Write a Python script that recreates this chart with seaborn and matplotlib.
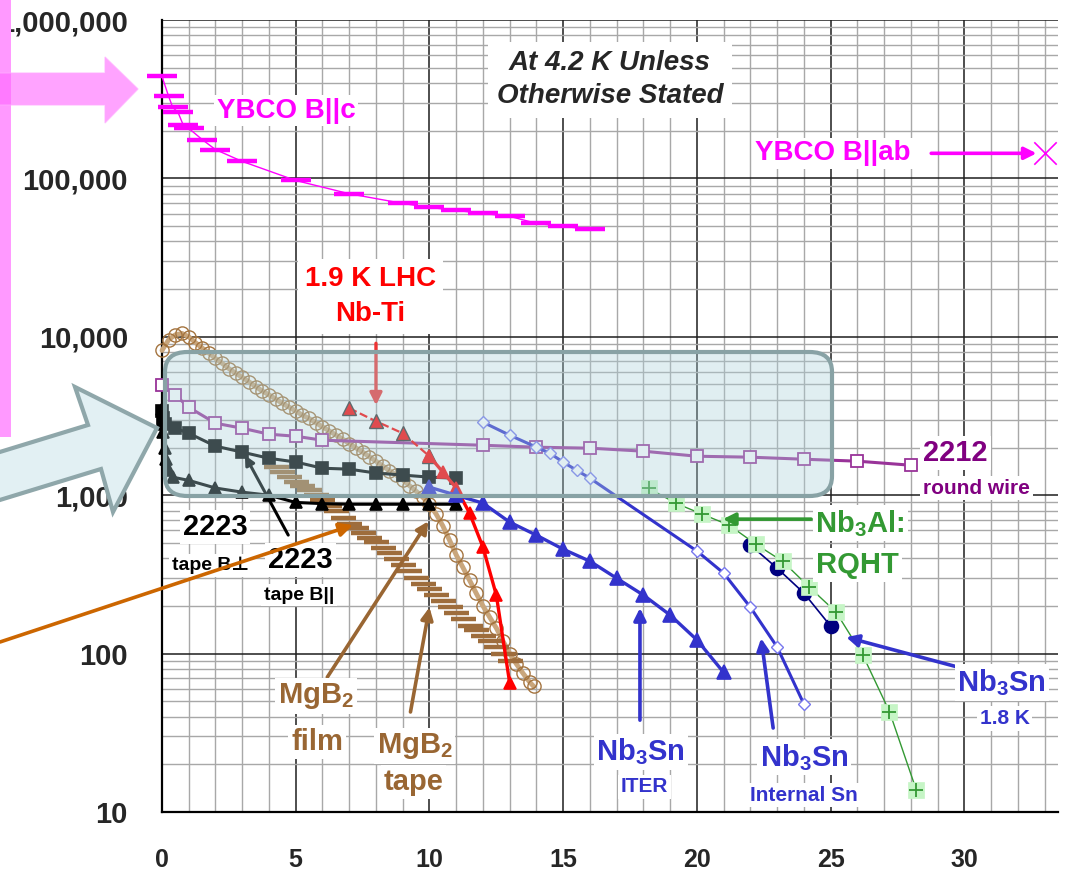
import matplotlib
matplotlib.use("Agg")
import matplotlib.pyplot as plt
import matplotlib.ticker as mticker
from matplotlib.patches import FancyBboxPatch, Polygon, Rectangle, FancyArrowPatch
from matplotlib import font_manager
import seaborn as sns

# ---------------------------------------------------------------- data
# Critical current density (A/mm2) versus applied field (T)
ybco_c_field = [0, 0.25, 0.4, 0.6, 0.8, 1, 1.5, 2, 3, 5, 7, 9, 10, 11, 12, 13, 14, 15, 16]
ybco_c_jc = [440000, 329000, 281000, 261000, 216000, 207000, 176000, 152000, 128000,
             97000, 80000, 69500, 65600, 62800, 60100, 57600, 52000, 49800, 47700]

ybco_ab_field = [33]
ybco_ab_jc = [144000]

bi2212_field = [0, 0.5, 1, 2, 3, 4, 5, 6, 12, 14, 16, 18, 20, 22, 24, 26, 28]
bi2212_jc = [4940, 4275, 3590, 2846, 2647, 2427, 2356, 2224, 2067, 2009, 1981,
             1896, 1762, 1738, 1687, 1640, 1546]

bi2223_par_field = [0, 0.05, 0.1, 0.5, 1, 2, 3, 4, 5, 6, 7, 8, 9, 10, 11]
bi2223_par_jc = [3400, 3050, 2800, 2650, 2460, 2040, 1870, 1710, 1620, 1480, 1460,
                 1380, 1340, 1300, 1280]

bi2223_perp_field = [0, 0.02, 0.05, 0.1, 0.15, 0.25, 0.4, 1, 2, 3, 4, 5, 6, 7, 8, 9, 10, 11]
bi2223_perp_jc = [3500, 3000, 2500, 2000, 1700, 1450, 1300, 1240, 1110, 1045, 1000,
                  900, 885, 877, 877, 877, 877, 877]

nbti_lhc_field = [7, 8, 9, 10]
nbti_lhc_jc = [3540, 2930, 2460, 1760]
nbti_field = [10, 10.5, 11, 11.5, 12, 12.5, 13]
nbti_jc = [1760, 1400, 1110, 770, 470, 234, 65]

mgb2_film_field = [0, 0.25, 0.5, 0.75, 1.0, 1.25, 1.5, 1.75, 2.0, 2.25, 2.5, 2.75,
                   3.0, 3.25, 3.5, 3.75, 4.0, 4.25, 4.5, 4.75, 5.0, 5.25, 5.5, 5.75,
                   6.0, 6.25, 6.5, 6.75, 7.0, 7.25, 7.5, 7.75, 8.0, 8.25, 8.5, 8.75,
                   9.0, 9.25, 9.5, 9.75, 10.0, 10.25, 10.5, 10.75, 11.0, 11.25, 11.5,
                   11.75, 12.0, 12.25, 12.5, 12.75, 13.0, 13.25, 13.5, 13.75, 13.9]
mgb2_film_jc = [8200, 9600, 10300, 10500, 10000, 9200, 8500, 7900, 7300, 6800, 6300,
                5900, 5550, 5200, 4850, 4550, 4300, 4050, 3800, 3600, 3400, 3200, 3050,
                2870, 2700, 2550, 2400, 2260, 2120, 1990, 1870, 1750, 1640, 1530, 1430,
                1340, 1250, 1150, 1060, 970, 880, 760, 640, 520, 420, 350, 290, 240,
                200, 170, 145, 120, 100, 86, 75, 66, 62]

mgb2_tape_field = [4.25, 4.5, 4.75, 5.0, 5.25, 5.5, 5.75, 6.0, 6.25, 6.5, 6.75, 7.0,
                   7.25, 7.5, 7.75, 8.0, 8.25, 8.5, 8.75, 9.0, 9.25, 9.5, 9.75, 10.0,
                   10.25, 10.5, 10.75, 11.0, 11.25, 11.5, 11.75, 12.0, 12.25, 12.5,
                   12.75, 13.0]
mgb2_tape_jc = [1500, 1400, 1300, 1210, 1140, 1080, 1000, 930, 860, 790, 720, 660,
                620, 580, 540, 505, 465, 430, 395, 360, 330, 300, 275, 255,
                235, 215, 197, 180, 165, 150, 140, 130, 120, 110, 100, 90]

nb3sn_iter_field = [10, 11, 12, 13, 14, 15, 16, 17, 18, 19, 20, 21]
nb3sn_iter_jc = [1123, 1000, 891, 676, 559, 456, 383, 299, 234, 175, 122, 76]

nb3sn_int_field = [12, 13, 14, 14.5, 15, 15.5, 16, 20, 21, 22, 23, 24]
nb3sn_int_jc = [2890, 2392, 2009, 1841, 1616, 1438, 1280, 444, 322, 196, 110, 48]

nb3sn_18k_field = [22, 23, 24, 25]
nb3sn_18k_jc = [484, 346, 241, 149]

nb3al_field = [18.2, 19.2, 20.2, 21.2, 22.2, 23.2, 24.2, 25.2, 26.2, 27.2, 28.2]
nb3al_jc = [1107, 891, 759, 647, 491, 383, 263, 183, 98, 43, 13.8]

x_ticks = [0, 5, 10, 15, 20, 25, 30]
y_ticks = [10, 100, 1000, 10000, 100000, 1000000]

# ---------------------------------------------------------------- style
sns.set_style("white")
plt.rcParams['font.family'] = ['Liberation Sans', 'DejaVu Sans']
plt.rcParams['font.weight'] = 'bold'
plt.rcParams['mathtext.fontset'] = 'custom'
plt.rcParams['mathtext.rm'] = 'Liberation Sans:bold'
plt.rcParams['mathtext.bf'] = 'Liberation Sans:bold'
plt.rcParams['mathtext.it'] = 'Liberation Sans:bold'
plt.rcParams['mathtext.default'] = 'bf'

names = {f.name for f in font_manager.fontManager.ttflist}
narrow = 'Liberation Sans Narrow' if 'Liberation Sans Narrow' in names else 'Liberation Sans'

MAGENTA = '#ff00ff'
PURPLE = '#993399'
PURPLE_TXT = '#800080'
RED = '#ff0000'
BROWN = '#996633'
BROWN_TAPE = '#9e6d3c'
BROWN_FILM = '#a4743f'
TAN = '#c9a67c'
BLUE = '#3333cc'
NAVY = '#000080'
GREEN = '#339933'
LIGHTGREEN = '#c6f5c6'
ORANGE = '#cc6600'

W, H = 1065, 875
fig = plt.figure(figsize=(W / 100, H / 100), dpi=100)
ax = fig.add_axes([162 / W, 1 - 812 / H, 896 / W, 792 / H])
ax.set_yscale('log')
ax.set_xlim(0, 33.5)
ax.set_ylim(10, 1e6)


def series(x, y, color, lw, marker=None, ms=8, mfc=None, mec=None, mew=1.2,
           ls='-', z=3):
    sns.lineplot(x=x, y=y, ax=ax, color=color, linewidth=lw, linestyle=ls,
                 marker=marker, markersize=ms,
                 markerfacecolor=mfc if mfc is not None else color,
                 markeredgecolor=mec if mec is not None else color,
                 markeredgewidth=mew, estimator=None, sort=False,
                 zorder=z, clip_on=False, legend=False)


# YBCO
series(ybco_c_field, ybco_c_jc, MAGENTA, 1.0, marker='_', ms=21, mew=3.2)
sns.scatterplot(x=ybco_ab_field, y=ybco_ab_jc, ax=ax, marker='x', s=260,
                color=MAGENTA, linewidth=1.2, zorder=3, clip_on=False, legend=False)

# MgB2
series(mgb2_film_field, mgb2_film_jc, TAN, 3.5, marker='o', ms=9.5,
       mfc='none', mec=BROWN_FILM, mew=1.0)
series(mgb2_tape_field, mgb2_tape_jc, BROWN_TAPE, 0.0, marker='_', ms=18, mew=3.2)

# Bi-2212
series(bi2212_field, bi2212_jc, PURPLE, 2.2, marker='s', ms=9, mfc='white',
       mec=PURPLE, mew=1.3)

# Bi-2223
series(bi2223_par_field, bi2223_par_jc, 'black', 2.2, marker='s', ms=8.5)
series(bi2223_perp_field, bi2223_perp_jc, 'black', 2.2, marker='^', ms=8.5)

# Nb-Ti at 1.9 K
series(nbti_lhc_field, nbti_lhc_jc, RED, 1.6, marker='^', ms=10, mfc=RED,
       mec='#333333', mew=1.0, ls='--')
series(nbti_field, nbti_jc, RED, 2.4, marker='^', ms=8.5)

# Nb3Sn
series(nb3sn_iter_field, nb3sn_iter_jc, BLUE, 2.4, marker='^', ms=10)
series(nb3sn_int_field, nb3sn_int_jc, BLUE, 2.2, marker='D', ms=6,
       mfc='white', mec='#7777ee', mew=1.0)
series(nb3sn_18k_field, nb3sn_18k_jc, NAVY, 1.2, marker='o', ms=10)

# Nb3Al
series(nb3al_field, nb3al_jc, GREEN, 1.0, marker='s', ms=12,
       mfc=LIGHTGREEN, mec=LIGHTGREEN, mew=0.5)
sns.scatterplot(x=nb3al_field, y=nb3al_jc, ax=ax, marker='+', s=110, color=GREEN,
                linewidth=1.3, zorder=3.5, clip_on=False, legend=False)

# ---------------------------------------------------------------- axes
ax.xaxis.set_major_locator(mticker.FixedLocator(x_ticks))
ax.xaxis.set_minor_locator(mticker.MultipleLocator(1))
ax.set_xticks(x_ticks, labels=[str(v) for v in x_ticks], fontfamily=narrow,
              fontsize=18, fontweight='bold')
ax.yaxis.set_major_locator(mticker.FixedLocator(y_ticks))
ax.yaxis.set_minor_locator(mticker.LogLocator(base=10, subs=range(2, 10), numticks=20))
ax.set_yticks(y_ticks, labels=[f"{v:,}" for v in y_ticks], fontsize=21,
              fontweight='bold')
ax.yaxis.set_minor_formatter(mticker.NullFormatter())

ax.tick_params(axis='y', which='both', direction='out', length=6, width=1.2,
               color='black', pad=18.5)
ax.tick_params(axis='x', which='both', direction='out', length=7, width=1.2,
               color='black', pad=19)
ax.grid(which='minor', color='#a8a8a8', linewidth=1.0)
ax.grid(which='major', color='#1e1e1e', linewidth=1.1)
ax.set_axisbelow(True)
for side in ('top', 'right'):
    ax.spines[side].set_visible(False)
for side in ('left', 'bottom'):
    ax.spines[side].set_color('black')
    ax.spines[side].set_linewidth(1.6)
ax.set_xlabel('')
ax.set_ylabel('')

# ---------------------------------------------------------------- annotations
WHITE = dict(facecolor='white', edgecolor='none', pad=2)


def label(x, y, s, color, size, ha='center', **kw):
    ax.text(x, y, s, color=color, fontsize=size, fontweight='bold', ha=ha,
            va='center', bbox=WHITE, zorder=8, **kw)


def arrow(tail, tip, color, lw=2.6, z=4, ms=18):
    ax.annotate('', xy=tip, xytext=tail,
                arrowprops=dict(arrowstyle='-|>', color=color, lw=lw,
                                mutation_scale=ms, shrinkA=0, shrinkB=0),
                zorder=z)


ax.text(16.75, 4.2e5, 'At 4.2 K Unless\nOtherwise Stated', fontsize=20,
        fontweight='bold', fontstyle='italic', ha='center', va='center',
        linespacing=1.35, bbox=dict(facecolor='white', edgecolor='none', pad=6),
        zorder=8)

label(4.64, 2.68e5, 'YBCO B||c', MAGENTA, 20)
label(25.06, 1.44e5, 'YBCO B||ab', MAGENTA, 20)
arrow((28.76, 1.44e5), (32.7, 1.44e5), MAGENTA, lw=2.6, z=6)

ax.text(7.8, 1.8e4, '1.9 K LHC\nNb-Ti', color=RED, fontsize=20, fontweight='bold',
        ha='center', va='center', linespacing=1.45,
        bbox=dict(facecolor='white', edgecolor='none', pad=5), zorder=8)
arrow((8.0, 9100), (8.0, 3700), '#ee3333', lw=2.4)

label(1.99, 628, '2223', 'black', 21)
label(1.8, 361, 'tape B⊥', 'black', 14)
label(5.17, 389, '2223', 'black', 21)
label(5.13, 234, 'tape B||', 'black', 14)
arrow((4.72, 560), (3.1, 1787), 'black', lw=2.2, ms=14)

label(5.75, 54, 'MgB$_2$', BROWN, 21)
label(5.8, 27.5, 'film', BROWN, 21)
arrow((6.18, 71), (9.96, 685), BROWN, lw=2.6)
label(9.44, 26, 'MgB$_2$', BROWN, 21)
label(9.4, 15.5, 'tape', BROWN, 21)
arrow((9.29, 42.8), (10.0, 196), BROWN, lw=2.6)

label(17.9, 23.9, 'Nb$_3$Sn', BLUE, 21)
label(18.05, 14.4, 'ITER', BLUE, 15)
arrow((17.87, 38), (17.87, 194), BLUE)
label(24.0, 22.2, 'Nb$_3$Sn', BLUE, 21)
label(24.0, 12.8, 'Internal Sn', BLUE, 15)
arrow((22.85, 33.9), (22.4, 125), BLUE)
label(31.4, 66, 'Nb$_3$Sn', BLUE, 21)
label(31.5, 39, '1.8 K', BLUE, 15)
arrow((29.78, 82), (25.58, 127), BLUE)

label(26.1, 666, 'Nb$_3$Al:', GREEN, 21)
label(26.0, 361, 'RQHT', GREEN, 21)
arrow((24.27, 706), (20.97, 706), GREEN)

label(28.46, 1841, '2212', PURPLE_TXT, 21, ha='left')
label(28.46, 1107, 'round wire', PURPLE_TXT, 15, ha='left')

# highlighted region over the high-field conductors
ax.add_patch(FancyBboxPatch((3 / 896, 316 / 792), 667 / 896, 144 / 792,
                            boxstyle='round,pad=0,rounding_size=0.025',
                            transform=ax.transAxes,
                            facecolor=(0.67, 0.82, 0.85, 0.36),
                            edgecolor='#88a2a5', linewidth=3.0, zorder=5,
                            clip_on=False))


# ---------------------------------------------------------------- margin shapes
def fxy(px, py):
    return (px / W, 1 - py / H)


fig.add_artist(Rectangle(fxy(0, 437), 11 / W, 437 / H, transform=fig.transFigure,
                         facecolor='#ff99ff', edgecolor='none', zorder=9))
fig.add_artist(Polygon([fxy(-5, 73), fxy(105, 73), fxy(105, 57), fxy(138, 89),
                        fxy(105, 123), fxy(105, 105), fxy(-5, 105)],
                       closed=True, transform=fig.transFigure,
                       facecolor='#ff66ff', edgecolor='#ffaaff', linewidth=1.0,
                       alpha=0.6, zorder=9.5))

fig.add_artist(Polygon([fxy(-10, 455), fxy(88, 425), fxy(75, 387), fxy(157, 428),
                        fxy(113, 512), fxy(101, 469), fxy(-10, 503)],
                       closed=True, transform=fig.transFigure,
                       facecolor='#e2f0f3', edgecolor='#8fa7aa', linewidth=3.0,
                       zorder=9))

fig.add_artist(FancyArrowPatch(fxy(0, 642), fxy(353, 525), transform=fig.transFigure,
                               arrowstyle='-|>', mutation_scale=20, color=ORANGE,
                               linewidth=2.6, shrinkA=0, shrinkB=0, zorder=9))

fig.savefig('out.png', dpi=100)
